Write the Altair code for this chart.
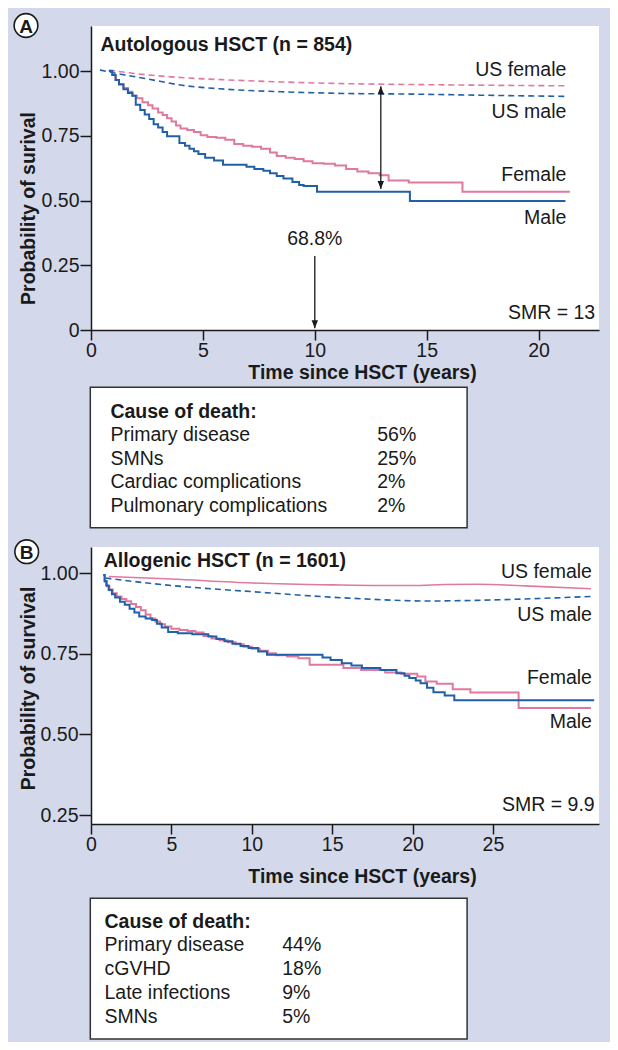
import altair as alt
import pandas as pd

BG = "#d3d9ea"
PINK = "#e0789f"
BLUE = "#2160a8"
INK = "#1a1a1a"
FONT = "Liberation Sans"
FS = 19.5

# ---------------- Panel A: Autologous HSCT (n = 854) ----------------
A_FEMALE_T = [0.8, 0.95, 1.1, 1.25, 1.45, 1.65, 1.85, 2.05, 2.3, 2.55, 2.75, 3.0, 3.2, 3.4,
              3.6, 3.8, 4.0, 4.3, 4.6, 4.9, 5.2, 5.6, 6.0, 6.4, 6.8, 7.2, 7.6, 8.0, 8.3,
              8.7, 9.1, 9.5, 9.9, 10.4, 10.9, 11.4, 11.9, 12.4, 12.9, 13.3, 14.2, 16.6, 21.4]
A_FEMALE_S = [1.0, 0.985, 0.965, 0.950, 0.935, 0.920, 0.905, 0.895, 0.880, 0.868, 0.855, 0.840,
              0.830, 0.818, 0.805, 0.790, 0.778, 0.772, 0.765, 0.752, 0.745, 0.742, 0.735, 0.718,
              0.712, 0.708, 0.700, 0.685, 0.672, 0.665, 0.660, 0.652, 0.644, 0.642, 0.635, 0.622,
              0.612, 0.605, 0.598, 0.577, 0.570, 0.534, 0.534]
A_MALE_T = [0.8, 0.95, 1.1, 1.25, 1.45, 1.65, 1.85, 2.0, 2.2, 2.4, 2.6, 2.8, 3.0, 3.2, 3.4,
            3.95, 4.2, 4.4, 4.6, 4.8, 5.1, 5.5, 5.9, 6.95, 7.3, 7.7, 8.0, 8.3, 8.6, 9.0, 9.3,
            9.5, 10.1, 14.25, 21.2]
A_MALE_S = [1.0, 0.985, 0.965, 0.948, 0.930, 0.915, 0.905, 0.870, 0.850, 0.832, 0.815, 0.795,
            0.782, 0.765, 0.748, 0.722, 0.712, 0.700, 0.690, 0.680, 0.665, 0.655, 0.638, 0.630,
            0.622, 0.615, 0.605, 0.595, 0.585, 0.572, 0.560, 0.556, 0.534, 0.498, 0.498]
A_USF_T = [0.8, 2.0, 4.0, 6.0, 8.5, 11.0, 14.3, 18.0, 21.3]
A_USF_S = [1.004, 0.990, 0.975, 0.966, 0.958, 0.952, 0.948, 0.945, 0.943]
A_USM_T = [0.4, 1.5, 2.5, 4.0, 6.0, 8.5, 11.0, 14.3, 18.0, 21.3]
A_USM_S = [1.004, 0.985, 0.970, 0.946, 0.930, 0.920, 0.914, 0.911, 0.906, 0.902]
A_CAUSES = ["Primary disease", "SMNs", "Cardiac complications", "Pulmonary complications"]
A_PCTS = ["56%", "25%", "2%", "2%"]

# ---------------- Panel B: Allogenic HSCT (n = 1601) ----------------
B_FEMALE_T = [0.76, 0.85, 1.0, 1.15, 1.35, 1.6, 1.9, 2.2, 2.5, 2.8, 3.1, 3.4, 3.7, 4.0, 4.3,
              4.6, 5.0, 5.5, 6.0, 6.5, 7.0, 7.5, 8.0, 8.5, 9.0, 9.5, 10.0, 10.5, 11.0, 11.5,
              12.2, 12.9, 13.6, 15.7, 16.8, 18.3, 19.3, 20.3, 20.8, 21.5, 22.5, 23.6, 26.6, 31.1]
B_FEMALE_S = [0.995, 0.975, 0.960, 0.950, 0.938, 0.928, 0.920, 0.913, 0.905, 0.895, 0.885,
              0.872, 0.860, 0.850, 0.842, 0.835, 0.828, 0.824, 0.821, 0.816, 0.805, 0.798,
              0.792, 0.786, 0.780, 0.772, 0.766, 0.760, 0.752, 0.746, 0.742, 0.736, 0.716,
              0.706, 0.700, 0.692, 0.688, 0.680, 0.664, 0.657, 0.640, 0.630, 0.582, 0.582]
B_MALE_T = [0.76, 0.85, 0.95, 1.1, 1.3, 1.5, 1.8, 2.1, 2.4, 2.7, 3.0, 3.4, 3.8, 4.1, 4.4, 4.8,
            5.4, 6.3, 7.3, 7.8, 8.3, 8.8, 9.3, 9.8, 10.4, 10.95, 14.4, 14.9, 15.6, 16.2, 16.85,
            18.0, 19.0, 19.5, 19.8, 20.2, 20.5, 20.9, 21.3, 22.0, 22.6, 31.3]
B_MALE_S = [0.995, 0.975, 0.962, 0.948, 0.935, 0.925, 0.912, 0.902, 0.890, 0.878, 0.866,
            0.860, 0.855, 0.843, 0.832, 0.818, 0.814, 0.811, 0.804, 0.796, 0.789, 0.781,
            0.774, 0.768, 0.757, 0.747, 0.739, 0.731, 0.721, 0.714, 0.706, 0.700, 0.690,
            0.682, 0.675, 0.667, 0.659, 0.645, 0.631, 0.621, 0.606, 0.606]
B_USF_T = [1.1, 5.0, 10.0, 15.0, 18.0, 20.0, 22.0, 24.0, 27.0, 31.1]
B_USF_S = [0.990, 0.982, 0.970, 0.964, 0.962, 0.962, 0.965, 0.966, 0.961, 0.952]
B_USM_T = [0.9, 5.0, 10.0, 16.0, 21.0, 24.0, 28.0, 31.1]
B_USM_S = [0.985, 0.962, 0.943, 0.923, 0.914, 0.916, 0.922, 0.928]
B_CAUSES = ["Primary disease", "cGVHD", "Late infections", "SMNs"]
B_PCTS = ["44%", "18%", "9%", "5%"]

W = 508
ONE = alt.Data(values=[{}])
UP = "M0,-1L-0.8,1L0.8,1Z"
DOWN = "M0,1L-0.8,-1L0.8,-1Z"


def make_axes(xvals, yvals, ytitle, ty, xty, ticksize):
    xa = alt.Axis(values=xvals, title="Time since HSCT (years)", titleX=271, titleY=xty,
                  titleBaseline="alphabetic", titleFontSize=FS, titleFontWeight="bold",
                  titleFont=FONT, titleColor=INK, labelFont=FONT, labelFontSize=FS,
                  labelColor=INK, labelFlush=False, labelPadding=1, tickSize=10,
                  tickColor=INK, domainColor=INK, tickWidth=1.5, domainWidth=1.5, grid=False)
    ya = alt.Axis(values=yvals, title=ytitle, titleX=-57, titleY=ty,
                  titleBaseline="alphabetic", titleFontSize=FS, titleFontWeight="bold",
                  titleFont=FONT, titleColor=INK, labelFont=FONT, labelFontSize=FS,
                  labelColor=INK, labelFlush=False, labelPadding=1, tickSize=ticksize,
                  tickColor=INK, domainColor=INK, tickWidth=1.5, domainWidth=1.5, grid=False,
                  labelExpr="datum.value == 0 ? '0' : format(datum.value, '.2f')")
    return xa, ya


def panel(curves, labels, title, title_pos, smr, smr_pos, xdom, ydom, xa, ya, height,
          letter, letter_pos, extras=()):
    xs = alt.Scale(domain=xdom, nice=False, zero=False)
    ys = alt.Scale(domain=ydom, nice=False, zero=False)
    X = alt.X("t:Q", scale=xs, axis=xa)
    Y = alt.Y("s:Q", scale=ys, axis=ya)
    layers = []
    for t, s, color, dash, interp, sw in curves:
        kw = dict(color=color, strokeWidth=sw, interpolate=interp)
        if dash:
            kw["strokeDash"] = dash
        layers.append(alt.Chart(pd.DataFrame({"t": t, "s": s})).mark_line(**kw).encode(x=X, y=Y))
    for ex in extras:
        layers.append(ex(X, Y))
    lab = pd.DataFrame(labels, columns=["t", "s", "label"])
    layers.append(alt.Chart(lab).mark_text(align="right", baseline="middle", font=FONT,
                                           fontSize=FS, color=INK)
                  .encode(x=X, y=Y, text="label:N"))
    layers.append(alt.Chart(pd.DataFrame([smr_pos + [smr]], columns=["t", "s", "label"]))
                  .mark_text(align="right", baseline="middle", font=FONT, fontSize=FS, color=INK)
                  .encode(x=X, y=Y, text="label:N"))
    layers.append(alt.Chart(pd.DataFrame([title_pos + [title]], columns=["t", "s", "label"]))
                  .mark_text(align="left", baseline="middle", font=FONT, fontSize=FS,
                             fontWeight="bold", color=INK)
                  .encode(x=X, y=Y, text="label:N"))
    layers.append(alt.Chart(ONE).mark_point(shape="circle", size=560, filled=True, fill="white",
                                            stroke=INK, strokeWidth=1.6, opacity=1)
                  .encode(x=alt.value(letter_pos[0]), y=alt.value(letter_pos[1])))
    layers.append(alt.Chart(ONE).mark_text(text=letter, font=FONT, fontSize=19, fontWeight="bold",
                                           color=INK, baseline="middle", align="center", dy=1)
                  .encode(x=alt.value(letter_pos[0]), y=alt.value(letter_pos[1])))
    return alt.layer(*layers).properties(width=W, height=height,
                                         view=alt.ViewBackground(fill="white", strokeWidth=0))


def arrows_a(X, Y):
    rules = pd.DataFrame({"t": [12.95, 10.0], "s": [0.941, 0.286], "s2": [0.545, 0.007]})
    r = alt.Chart(rules).mark_rule(color=INK, strokeWidth=1.3).encode(x=X, y=Y, y2="s2:Q")
    up = alt.Chart(pd.DataFrame({"t": [12.95], "s": [0.941]})).mark_point(
        shape=UP, size=64, filled=True, color=INK, opacity=1).encode(x=X, y=Y, yOffset=alt.value(4))
    dn = alt.Chart(pd.DataFrame({"t": [12.95, 10.0], "s": [0.545, 0.007]})).mark_point(
        shape=DOWN, size=64, filled=True, color=INK, opacity=1).encode(x=X, y=Y, yOffset=alt.value(-4))
    txt = alt.Chart(pd.DataFrame({"t": [10.0], "s": [0.350], "label": ["68.8%"]})).mark_text(
        align="center", baseline="middle", font=FONT, fontSize=FS, color=INK).encode(
        x=X, y=Y, text="label:N")
    return alt.layer(r, up, dn, txt)


def table(causes, pcts, box_y, rows_range, label_x, pct_x, height):
    box = alt.Chart(ONE).mark_rect(fill="white", stroke="#333333", strokeWidth=1.5).encode(
        x=alt.value(-0.7), x2=alt.value(376.1), y=alt.value(box_y[0]), y2=alt.value(box_y[1]))
    df = pd.DataFrame({"row": list(range(1, len(causes) + 1)), "cause": causes, "pct": pcts})
    head = pd.DataFrame({"row": [0], "cause": ["Cause of death:"]})
    ys = alt.Scale(domain=[0, len(causes)], range=rows_range)
    Yr = alt.Y("row:Q", scale=ys, axis=None)
    h = alt.Chart(head).mark_text(align="left", baseline="middle", font=FONT, fontSize=FS,
                                  fontWeight="bold", color=INK).encode(
        x=alt.value(label_x), y=Yr, text="cause:N")
    c = alt.Chart(df).mark_text(align="left", baseline="middle", font=FONT, fontSize=FS,
                                color=INK).encode(x=alt.value(label_x), y=Yr, text="cause:N")
    p = alt.Chart(df).mark_text(align="left", baseline="middle", font=FONT, fontSize=FS,
                                color=INK).encode(x=alt.value(pct_x), y=Yr, text="pct:N")
    return alt.layer(box, h, c, p).properties(width=W, height=height)


spacer = alt.Chart(ONE).mark_rect(color=BG).encode(
    x=alt.value(-83), x2=alt.value(519), y=alt.value(0), y2=alt.value(18)
).properties(width=W, height=18)

xaA, yaA = make_axes([0, 5, 10, 15, 20], [0, 0.25, 0.5, 0.75, 1.0],
                     "Probability of surival", 182, 48, 11)
plotA = panel(
    curves=[
        (A_USF_T, A_USF_S, PINK, [6, 4], "monotone", 1.6),
        (A_USM_T, A_USM_S, BLUE, [6, 4], "monotone", 1.6),
        (A_FEMALE_T, A_FEMALE_S, PINK, None, "step-after", 2),
        (A_MALE_T, A_MALE_S, BLUE, None, "step-after", 2),
    ],
    labels=[[21.24, 1.006, "US female"], [21.24, 0.843, "US male"],
            [21.24, 0.600, "Female"], [21.24, 0.431, "Male"]],
    title="Autologous HSCT (n = 854)", title_pos=[0.42, 1.100],
    smr="SMR = 13", smr_pos=[22.53, 0.066],
    xdom=[0, 22.7], ydom=[0, 1.174], xa=xaA, ya=yaA, height=304,
    letter="A", letter_pos=[-65, -0.5], extras=[arrows_a])

tableA = table(A_CAUSES, A_PCTS, [57.3, 197.7], [81.7, 175.7], 19.4, 286.2, 217)

xaB, yaB = make_axes([0, 5, 10, 15, 20, 25], [0.25, 0.5, 0.75, 1.0],
                     "Probability of survival", 141, 58.5, 12)
plotB = panel(
    curves=[
        (B_USF_T, B_USF_S, PINK, None, "monotone", 1.6),
        (B_USM_T, B_USM_S, BLUE, [6, 4], "monotone", 1.6),
        (B_FEMALE_T, B_FEMALE_S, PINK, None, "step-after", 2),
        (B_MALE_T, B_MALE_S, BLUE, None, "step-after", 2),
    ],
    labels=[[31.16, 1.003, "US female"], [31.16, 0.870, "US male"],
            [31.16, 0.676, "Female"], [31.16, 0.539, "Male"]],
    title="Allogenic HSCT (n = 1601)", title_pos=[0.79, 1.039],
    smr="SMR = 9.9", smr_pos=[31.33, 0.281],
    xdom=[0, 31.6], ydom=[0.2221, 1.0815], xa=xaB, ya=yaB, height=277,
    letter="B", letter_pos=[-64.3, 4.7])

tableB = table(B_CAUSES, B_PCTS, [74.3, 215.0], [97.7, 192.7], 13.5, 191.2, 218)

chart = alt.vconcat(spacer, plotA, tableA, plotB, tableB, spacing=0, bounds="flush").properties(
    background=BG, padding=0
).configure_view(strokeWidth=0)

chart.save("out.html", embed_options={"renderer": "svg", "actions": False})
